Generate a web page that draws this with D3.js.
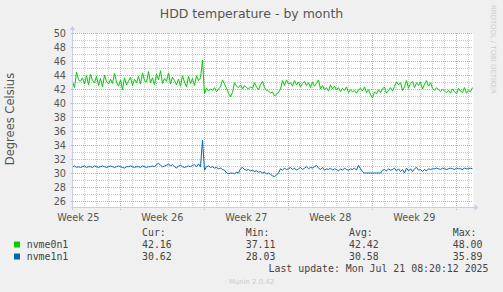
<!DOCTYPE html>
<html>
<head>
<meta charset="utf-8">
<script src="https://cdn.jsdelivr.net/npm/d3@7"></script>
<style>
  html, body { margin: 0; padding: 0; background: #f0f0f0; }
  svg { display: block; }
</style>
</head>
<body>
<div id="chart"></div>
<script>
// ── Data ──────────────────────────────────────────────────────────────────────
const title = "HDD temperature - by month";
const yTitle = "Degrees Celsius";
const seriesNames = ["nvme0n1", "nvme1n1"];
const seriesColors = ["#00cc00", "#0066b3"];
const legendHeaders = ["Cur:", "Min:", "Avg:", "Max:"];
const legendStats = [
  ["42.16", "37.11", "42.42", "48.00"],
  ["30.62", "28.03", "30.58", "35.89"],
];
const lastUpdate = "Last update: Mon Jul 21 08:20:12 2025";
const yTicks = [26, 28, 30, 32, 34, 36, 38, 40, 42, 44, 46, 48, 50];
const weekLabels = ["Week 25", "Week 26", "Week 27", "Week 28", "Week 29"];

// one sample every 4 hours, from the graph start
const startTime = new Date(Date.UTC(2025, 5, 18, 0, 20));
const endTime = new Date(Date.UTC(2025, 6, 21, 8, 20));
const stepHours = 4;

const nvme0n1 = [
  43.0, 42.2, 44.4, 43.3, 43.1, 43.6, 42.7, 43.9, 42.6, 44.1,
  43.2, 42.9, 43.8, 42.5, 43.5, 42.3, 44.0, 43.1, 42.7, 43.4,
  42.8, 44.2, 43.0, 42.4, 43.3, 41.9, 43.6, 42.6, 43.1, 43.7,
  42.5, 43.4, 42.9, 43.8, 42.7, 44.3, 43.2, 43.0, 44.5, 42.9,
  43.6, 42.6, 44.1, 43.3, 44.6, 42.8, 43.5, 43.1, 44.3, 42.7,
  43.7, 43.2, 42.6, 43.4, 42.4, 43.9, 43.0, 42.3, 43.8, 42.8,
  43.5, 42.5, 43.9, 43.2, 43.6, 46.1, 41.3, 42.1, 41.7, 42.0,
  41.8, 42.2, 41.6, 42.0, 42.3, 43.3, 42.7, 42.1, 41.4, 40.9,
  41.5, 42.9, 42.4, 42.2, 42.6, 42.0, 42.5, 42.2, 42.0, 42.3,
  42.1, 42.9, 42.3, 41.9, 42.6, 43.1, 42.2, 41.8, 41.7, 41.4,
  41.6, 41.0, 41.3, 41.5, 42.0, 43.2, 42.5, 43.3, 42.7, 42.9,
  42.4, 43.2, 42.6, 43.0, 42.3, 42.8, 43.1, 42.5, 42.9, 42.2,
  43.0, 42.4, 42.8, 43.3, 42.0, 42.5, 41.9, 42.2, 41.7, 42.6,
  42.0, 42.4, 41.9, 42.2, 41.6, 42.1, 41.8, 42.3, 41.5, 41.9,
  41.6, 41.8, 41.4, 41.9, 42.1, 41.7, 42.3, 41.5, 41.9, 41.2,
  40.7, 41.6, 41.3, 41.9, 41.5, 42.0, 42.3, 41.4, 41.8, 42.2,
  41.7, 42.4, 43.0, 42.6, 42.9, 41.8, 42.3, 43.2, 42.1, 42.8,
  43.1, 42.2, 42.9, 42.5, 43.0, 42.0, 42.7, 43.2, 42.4, 42.9,
  42.1, 41.8, 42.2, 41.9, 41.6, 42.0, 41.7, 41.5, 41.8, 41.4,
  42.0, 41.6, 41.3, 42.1, 41.7, 41.5, 42.2, 41.4, 41.8, 41.6,
  42.2,
];

const nvme1n1 = [
  30.9, 31.0, 30.8, 30.9, 30.8, 30.9, 31.0, 30.8, 30.9, 30.9,
  30.8, 31.0, 30.9, 30.8, 30.9, 31.0, 30.9, 30.8, 30.9, 31.0,
  30.9, 30.8, 30.9, 31.0, 30.9, 30.8, 30.7, 30.9, 30.9, 31.0,
  30.9, 30.8, 30.9, 30.9, 30.8, 31.0, 30.9, 30.8, 30.9, 30.9,
  31.0, 30.9, 31.2, 31.4, 31.1, 30.9, 31.0, 31.1, 31.3, 31.0,
  31.2, 30.9, 30.7, 31.0, 31.1, 30.9, 30.8, 30.9, 31.0, 30.9,
  31.1, 31.2, 30.9, 31.3, 30.9, 34.7, 30.4, 30.9, 31.0, 30.8,
  30.9, 30.7, 30.8, 30.6, 30.7, 30.5, 30.4, 30.0, 29.9, 30.0,
  30.0, 29.9, 30.1, 30.0, 30.6, 30.8, 30.5, 30.4, 30.5, 30.3,
  30.4, 30.2, 30.3, 30.1, 30.2, 30.0, 30.1, 29.9, 30.0, 29.8,
  29.6, 29.5, 29.7, 30.0, 30.6, 30.4, 30.7, 30.5, 30.6, 30.8,
  30.5, 30.7, 30.4, 30.6, 30.8, 30.5, 30.7, 30.9, 30.6, 30.8,
  30.7, 30.9, 31.1, 30.7, 30.5, 30.8, 30.4, 30.6, 30.5, 30.7,
  30.4, 30.6, 30.5, 30.3, 30.6, 30.4, 30.7, 30.5, 30.4, 30.6,
  30.5, 30.7, 30.4, 31.1, 30.6, 30.2, 30.0, 30.0, 30.0, 30.0,
  30.0, 30.0, 30.0, 30.0, 30.0, 30.4, 30.5, 30.3, 30.6, 30.4,
  30.5, 30.7, 30.3, 30.6, 30.2, 30.5, 30.0, 30.7, 30.3, 30.6,
  30.2, 30.6, 30.8, 30.4, 30.5, 30.2, 30.5, 30.3, 30.6, 30.5,
  30.6, 30.6, 30.7, 30.6, 30.5, 30.7, 30.6, 30.5, 30.6, 30.7,
  30.6, 30.5, 30.7, 30.6, 30.6, 30.5, 30.7, 30.6, 30.6, 30.7,
  30.6,
];

// ── Layout ────────────────────────────────────────────────────────────────────
const W = 503, H = 292;
const plot = { left: 72.5, right: 472.5, top: 33, bottom: 208 };
const sans = "'DejaVu Sans', sans-serif";
const mono = "'DejaVu Sans Mono', monospace";
const textColor = "#555";
const axisColor = "#c8ccf0";
const gridColor = "#c8c8c8";
const mgridColor = "#f0a0a0";

const svg = d3.select("#chart").append("svg")
  .attr("width", W).attr("height", H);

svg.append("rect").attr("width", W).attr("height", H).attr("fill", "#f0f0f0");

const x = d3.scaleUtc().domain([startTime, endTime]).range([plot.left, plot.right]);
const y = d3.scaleLinear().domain([25, 50]).range([plot.bottom, plot.top]);

// canvas
svg.append("rect")
  .attr("x", plot.left).attr("y", plot.top)
  .attr("width", plot.right - plot.left + 1).attr("height", plot.bottom - plot.top)
  .attr("fill", "#fff");

// ── Grid
const grid = svg.append("g").attr("shape-rendering", "crispEdges");
const minorY = d3.range(26, 51, 1).filter((v) => !yTicks.includes(v));
const days = d3.utcDay.range(startTime, endTime);
const weeks = d3.utcSunday.range(startTime, endTime);
const minorDays = days.filter((d) => d.getUTCDay() !== 0);

grid.selectAll(".minor-y").data(minorY).join("line")
  .attr("x1", plot.left).attr("x2", plot.right)
  .attr("y1", (d) => Math.round(y(d)) + 0.5).attr("y2", (d) => Math.round(y(d)) + 0.5)
  .attr("stroke", gridColor).attr("stroke-dasharray", "1,1");

grid.selectAll(".minor-x").data(minorDays).join("line")
  .attr("x1", (d) => Math.round(x(d)) + 0.5).attr("x2", (d) => Math.round(x(d)) + 0.5)
  .attr("y1", plot.top).attr("y2", plot.bottom)
  .attr("stroke", gridColor).attr("stroke-dasharray", "1,1");

grid.selectAll(".major-y").data(yTicks).join("line")
  .attr("x1", plot.left - 2).attr("x2", plot.right)
  .attr("y1", (d) => Math.round(y(d)) + 0.5).attr("y2", (d) => Math.round(y(d)) + 0.5)
  .attr("stroke", mgridColor).attr("stroke-dasharray", "1,1");

grid.selectAll(".major-x").data(weeks).join("line")
  .attr("x1", (d) => Math.round(x(d)) + 0.5).attr("x2", (d) => Math.round(x(d)) + 0.5)
  .attr("y1", plot.top).attr("y2", plot.bottom + 2)
  .attr("stroke", mgridColor).attr("stroke-dasharray", "1,1");

// ── Axis labels
svg.append("g").selectAll("text").data(yTicks).join("text")
  .attr("x", 66).attr("y", (d) => y(d) + 3.5)
  .attr("text-anchor", "end")
  .attr("font-family", sans).attr("font-size", 9.7).attr("fill", textColor)
  .text((d) => d);

svg.append("g").selectAll("text").data(weekLabels).join("text")
  .attr("x", (d, i) => x(d3.utcHour.offset(weeks[0], -84 + i * 168)))
  .attr("y", 220.5)
  .attr("text-anchor", "middle")
  .attr("font-family", sans).attr("font-size", 9.7).attr("fill", textColor)
  .text((d) => d);

// ── Series
const line = d3.line()
  .x((d, i) => x(d3.utcHour.offset(startTime, i * stepHours)))
  .y((d) => y(d));

[nvme0n1, nvme1n1].forEach((values, k) => {
  svg.append("path")
    .datum(values)
    .attr("d", line)
    .attr("fill", "none")
    .attr("stroke", seriesColors[k])
    .attr("stroke-width", 1)
    .attr("stroke-linejoin", "round");
});

// ── Axes with arrows
const axes = svg.append("g").attr("fill", axisColor).attr("stroke", axisColor);
axes.append("line")
  .attr("x1", plot.left).attr("x2", plot.left)
  .attr("y1", plot.bottom + 2).attr("y2", plot.top - 4)
  .attr("shape-rendering", "crispEdges");
axes.append("line")
  .attr("x1", plot.left - 2).attr("x2", plot.right + 3)
  .attr("y1", plot.bottom - 0.5).attr("y2", plot.bottom - 0.5)
  .attr("shape-rendering", "crispEdges");
axes.append("path")
  .attr("stroke", "none")
  .attr("d", `M${plot.left - 3},${plot.top - 3} L${plot.left},${plot.top - 7} L${plot.left + 3},${plot.top - 3} Z`);
axes.append("path")
  .attr("stroke", "none")
  .attr("d", `M${plot.right + 2},${plot.bottom - 3.5} L${plot.right + 6},${plot.bottom - 0.5} L${plot.right + 2},${plot.bottom + 2.5} Z`);

// ── Titles
svg.append("text")
  .attr("x", W / 2).attr("y", 18)
  .attr("text-anchor", "middle")
  .attr("font-family", sans).attr("font-size", 12.5).attr("fill", textColor)
  .text(title);

svg.append("text")
  .attr("transform", "translate(14,119) rotate(-90)")
  .attr("text-anchor", "middle")
  .attr("font-family", sans).attr("font-size", 11.5).attr("fill", textColor)
  .text(yTitle);

svg.append("text")
  .attr("transform", "translate(491,5) rotate(90)")
  .attr("font-family", sans).attr("font-size", 6.9).attr("fill", "#ccc")
  .text("RRDTOOL / TOBI OETIKER");

// ── Legend
const legend = svg.append("g")
  .attr("font-family", mono).attr("font-size", 9.9).attr("fill", "#444");
const colX = [142, 245.7, 349, 452.7];

legend.selectAll(".hdr").data(legendHeaders).join("text")
  .attr("x", (d, i) => colX[i]).attr("y", 236)
  .text((d) => d);

seriesNames.forEach((name, k) => {
  const rowY = 248 + k * 12;
  legend.append("rect")
    .attr("x", 14).attr("y", rowY - 6.5).attr("width", 6).attr("height", 6)
    .attr("fill", seriesColors[k]);
  legend.append("text").attr("x", 26.7).attr("y", rowY).text(name);
  legend.selectAll(null).data(legendStats[k]).join("text")
    .attr("x", (d, i) => colX[i]).attr("y", rowY)
    .text((d) => d);
});

legend.append("text")
  .attr("x", 488.5).attr("y", 272)
  .attr("text-anchor", "end")
  .text(lastUpdate);

svg.append("text")
  .attr("x", 251.5).attr("y", 284)
  .attr("text-anchor", "middle")
  .attr("font-family", sans).attr("font-size", 6.9).attr("fill", "#ccc")
  .text("Munin 2.0.42");
</script>
</body>
</html>
